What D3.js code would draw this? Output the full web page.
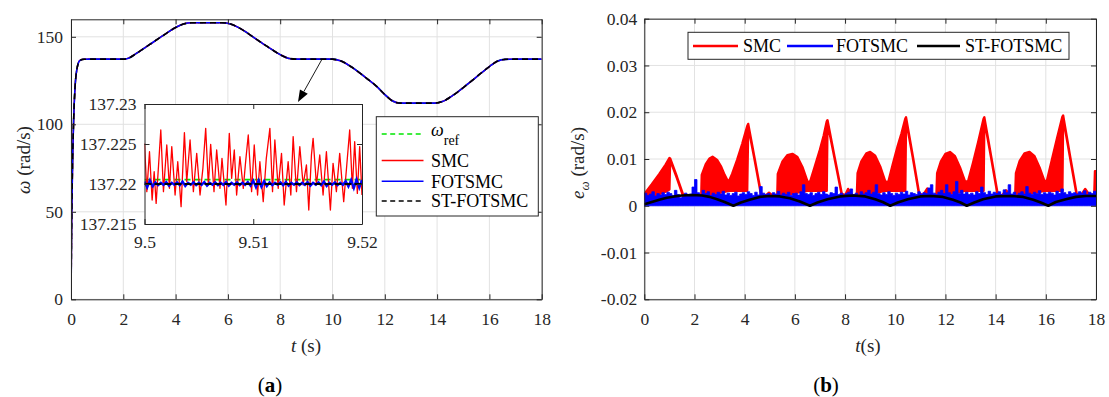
<!DOCTYPE html>
<html><head><meta charset="utf-8">
<script src="https://cdn.jsdelivr.net/npm/d3@7"></script>
<style>
body{margin:0;background:#fff;}
</style></head><body>
<svg id="c" width="1109" height="397"></svg>
<script>
// ---------- Panel (a): speed tracking ----------
const mainTime  = [0,0.03,0.07,0.1,0.15,0.22,0.34,0.5,0.7,2.0,2.2,2.5,3.0,3.5,4.0,4.3,4.6,5.8,6.1,6.5,7.0,7.5,8.0,8.3,8.6,10.0,10.3,10.7,11.2,11.7,12.0,12.3,12.6,13.9,14.2,14.6,15.0,15.5,16.0,16.3,16.6,17.0,18.0];
const mainOmega = [0,50,85,102,120,131,136.5,137.15,137.22,137.22,137.8,140.5,145.5,150.5,155.3,157.3,158.0,158.0,157.3,154.5,149.5,144.5,139.8,137.8,137.22,137.22,136.3,133,127.5,121.5,117,113.3,112.1,112.1,113,116.5,121,127,133,136,137.1,137.22,137.22];
const xTicksA = [0,2,4,6,8,10,12,14,16,18];
const yTicksA = [0,50,100,150];

// inset (zoom 9.5 - 9.52 s)
const insetRefTime = [9.5, 9.52];
const insetRef     = [137.22055, 137.22055];
const insetSTTime  = [9.5, 9.52];
const insetST      = [137.2200, 137.2200];
const insetSMCTime = [9.5,9.500214,9.500459,9.500703,9.50089,9.50107,9.501498,9.501743,9.502049,9.502294,9.502508,9.502813,9.503058,9.503364,9.50367,9.503884,9.50419,9.504495,9.504801,9.505107,9.50537,9.505627,9.505871,9.506085,9.506391,9.506636,9.506942,9.507125,9.507492,9.507798,9.508012,9.508257,9.508471,9.508776,9.509082,9.5093,9.509541,9.509847,9.510091,9.510397,9.510611,9.510917,9.5112,9.511529,9.511773,9.511987,9.512293,9.512599,9.512844,9.513211,9.513455,9.513669,9.513975,9.514281,9.514587,9.514892,9.515106,9.515351,9.515504,9.51581,9.516116,9.516421,9.516727,9.517094,9.517339,9.517645,9.51795,9.518317,9.5186,9.518868,9.519113,9.519327,9.519572,9.519786,9.52];
const insetSMC     = [137.22508,137.21904,137.22404,137.21800,137.22154,137.21758,137.22675,137.21904,137.22488,137.21946,137.22467,137.21862,137.22279,137.21717,137.22642,137.22029,137.22550,137.21904,137.22383,137.21862,137.22196,137.22696,137.21988,137.22496,137.21904,137.22425,137.21946,137.22321,137.21737,137.22633,137.22071,137.22425,137.21862,137.22342,137.21946,137.22279,137.22613,137.21904,137.22488,137.21862,137.22279,137.21779,137.22321,137.22696,137.21904,137.22550,137.21946,137.22383,137.21737,137.22279,137.21862,137.22592,137.21904,137.22467,137.21988,137.22238,137.21675,137.22363,137.22571,137.21988,137.22363,137.21862,137.22404,137.21675,137.22258,137.21904,137.22383,137.21779,137.22238,137.22675,137.21946,137.22529,137.21883,137.22467,137.21862];
const insetFOTStep = 0.00025;
const insetFOTSMC  = [137.22030,137.21960,137.22045,137.21970,137.22020,137.21985,137.22015,137.21990,137.22025,137.21980,
137.22015,137.21990,137.22020,137.21985,137.22030,137.21975,137.22015,137.21990,137.22020,137.21985,
137.22015,137.21990,137.22025,137.21980,137.22015,137.21990,137.22020,137.21985,137.22015,137.21990,
137.22025,137.21980,137.22015,137.21990,137.22020,137.21985,137.22015,137.21990,137.22025,137.21980,
137.22040,137.21960,137.22045,137.21965,137.22035,137.21975,137.22020,137.21985,137.22015,137.21990,
137.22020,137.21985,137.22025,137.21980,137.22015,137.21990,137.22020,137.21985,137.22015,137.21990,
137.22025,137.21980,137.22015,137.21990,137.22020,137.21985,137.22030,137.21975,137.22015,137.21990,
137.22020,137.21985,137.22015,137.21990,137.22035,137.21970,137.22050,137.21950,137.22055,137.21955,
137.22050];
const xTicksInset = [9.5, 9.51, 9.52];
const yTicksInset = [137.215, 137.22, 137.225, 137.23];
const arrowFrom = [9.6, 137.22];
const arrowTo   = [8.68, 112.7];

// ---------- Panel (b): speed error ----------
const smcTime = [0,0.3,0.6,0.85,1.0,1.03,1.3,1.55,1.8,2.1,2.27,2.29,2.45,2.6,2.72,2.9,3.05,3.2,3.35,3.5,3.7,3.9,4.1,4.14,4.4,4.65,4.8,4.97,5.15,5.3,5.32,5.5,5.7,5.9,6.1,6.3,6.5,6.6,6.8,7.0,7.15,7.27,7.3,7.58,7.87,8.0,8.12,8.3,8.47,8.5,8.65,8.85,9.0,9.2,9.4,9.6,9.72,9.9,10.1,10.25,10.4,10.43,10.7,10.95,11.1,11.28,11.45,11.64,11.67,11.82,12.0,12.18,12.38,12.58,12.78,12.9,13.1,13.3,13.52,13.55,13.82,14.08,14.25,14.42,14.6,14.78,14.81,14.96,15.15,15.35,15.55,15.75,15.95,16.05,16.25,16.45,16.66,16.69,16.96,17.23,17.4,17.57,17.75,17.93,17.96,18.0];
const smcHigh = [.0025,.0046,.0068,.0088,.0102,.0101,.0062,.0023,.0016,.0016,.0022,.0066,.0089,.0101,.0105,.0098,.0085,.0066,.0050,.0068,.0098,.0132,.0170,.0175,.0100,.0027,.0020,.0028,.0020,.0022,.0068,.0094,.0108,.0111,.0104,.0083,.0052,.0050,.0085,.0120,.0150,.0180,.0183,.0105,.0026,.0022,.0036,.0022,.0022,.0070,.0095,.0112,.0115,.0107,.0084,.0052,.0050,.0088,.0128,.0155,.0186,.0189,.0106,.0027,.0022,.0037,.0022,.0022,.0070,.0095,.0111,.0115,.0106,.0082,.0052,.0052,.0092,.0135,.0186,.0189,.0106,.0026,.0022,.0033,.0022,.0022,.0070,.0096,.0112,.0115,.0106,.0082,.0052,.0055,.0100,.0145,.0190,.0193,.0108,.0026,.0022,.0036,.0022,.0022,.0074,.0074];
const smcLow  = [.0015,.0020,.0025,.0030,.0035,.0098,.0059,.0020,.0014,.0014,.0018,.0020,.0020,.0022,.0024,.0026,.0028,.0030,.0032,.0032,.0032,.0032,.0032,.0170,.0097,.0024,.0016,.0016,.0016,.0018,.0020,.0022,.0024,.0026,.0028,.0030,.0032,.0032,.0032,.0032,.0032,.0032,.0178,.0102,.0023,.0016,.0016,.0016,.0018,.0020,.0022,.0024,.0026,.0028,.0030,.0032,.0032,.0032,.0032,.0032,.0032,.0184,.0103,.0024,.0016,.0016,.0016,.0018,.0020,.0022,.0024,.0026,.0028,.0030,.0032,.0032,.0032,.0032,.0032,.0184,.0103,.0023,.0016,.0016,.0016,.0018,.0020,.0022,.0024,.0026,.0028,.0030,.0032,.0032,.0032,.0032,.0032,.0188,.0105,.0023,.0016,.0016,.0016,.0018,.0020,.0020];
const fotsmcStep = 0.1;
const fotsmcErr = [
.0027,.0022,.0025,.0030,.0021,.0026,.0023,.0028,.0024,.0029,
.0026,.0022,.0033,.0024,.0017,.0019,.0027,.0022,.0025,.0040,
.0056,.0028,.0024,.0033,.0026,.0030,.0022,.0027,.0024,.0029,
.0025,.0031,.0023,.0027,.0022,.0026,.0029,.0021,.0025,.0028,
.0024,.0030,.0026,.0022,.0029,.0023,.0041,.0027,.0024,.0026,
.0022,.0028,.0025,.0031,.0023,.0027,.0024,.0029,.0022,.0026,
.0027,.0023,.0030,.0045,.0026,.0024,.0028,.0022,.0026,.0029,
.0024,.0030,.0025,.0023,.0028,.0026,.0040,.0024,.0027,.0023,
.0026,.0029,.0036,.0024,.0027,.0022,.0030,.0025,.0028,.0033,
.0025,.0029,.0045,.0026,.0023,.0028,.0024,.0030,.0026,.0022,
.0027,.0024,.0029,.0025,.0031,.0023,.0028,.0026,.0024,.0030,
.0025,.0028,.0026,.0038,.0045,.0027,.0024,.0029,.0033,.0026,
.0045,.0028,.0024,.0030,.0052,.0027,.0033,.0025,.0029,.0024,
.0027,.0023,.0030,.0026,.0040,.0028,.0024,.0031,.0025,.0029,
.0026,.0030,.0024,.0034,.0028,.0045,.0025,.0029,.0023,.0027,
.0030,.0025,.0041,.0027,.0024,.0029,.0026,.0032,.0024,.0028,
.0025,.0029,.0027,.0023,.0031,.0026,.0036,.0028,.0024,.0030,
.0026,.0028,.0025,.0030,.0027,.0032,.0024,.0029,.0026,.0031,
.0028];
const stTime = [0,0.3,0.6,0.9,1.2,1.5,1.9,2.3,2.6,2.9,3.2,3.55,3.85,4.2,4.6,5.0,5.4,5.8,6.2,6.6,6.9,7.3,7.8,8.3,8.8,9.2,9.5,9.8,10.1,10.5,11.0,11.4,11.9,12.3,12.6,12.85,13.15,13.5,14.0,14.6,15.1,15.5,15.8,16.1,16.4,16.8,17.2,17.6,18.0];
const stErr  = [.0003,.0008,.0013,.0017,.0020,.0022,.0023,.0022,.0019,.0014,.0008,0,.0007,.0013,.0019,.0021,.0020,.0016,.0009,0,.0007,.0014,.0020,.0022,.0020,.0014,.0008,0,.0007,.0014,.0020,.0021,.0019,.0013,.0007,0,.0007,.0014,.0020,.0021,.0019,.0013,.0007,0,.0008,.0014,.0019,.0021,.0021];
const xTicksB = [0,2,4,6,8,10,12,14,16,18];
const yTicksB = [-0.02,-0.01,0,0.01,0.02,0.03,0.04];

const seriesColors = {ref:"#00e600", smc:"#ff0000", fot:"#0000ff", st:"#000000"};
const legendA = ["ref","SMC","FOTSMC","ST-FOTSMC"];
const legendB = ["SMC","FOTSMC","ST-FOTSMC"];

// ---------- drawing ----------
const FONT = "'Liberation Serif', 'Times New Roman', Times, serif";
const svg = d3.select("#c").style("font-family", FONT);
const AX = "#262626", GRID = "#e2e2e2", TF = 17.5;

function grid(g, x, y, xt, yt) {
  const [x0,x1] = x.range(), [y0,y1] = y.range();
  g.append("g").selectAll("line").data(xt).join("line")
    .attr("x1",d=>x(d)).attr("x2",d=>x(d)).attr("y1",y0).attr("y2",y1).attr("stroke",GRID);
  g.append("g").selectAll("line").data(yt).join("line")
    .attr("y1",d=>y(d)).attr("y2",d=>y(d)).attr("x1",x0).attr("x2",x1).attr("stroke",GRID);
}
function axes(g, x, y, xt, yt, xPad, yPad) {
  const [x0,x1] = x.range(), [y0,y1] = y.range();
  const fmt = d=>String(d);
  const style = s => { s.attr("font-family",null).attr("font-size",TF);
    s.selectAll(".domain").attr("stroke",AX); s.selectAll(".tick line").attr("stroke",AX);
    s.selectAll("text").attr("fill",AX).style("font-family",FONT); };
  g.append("g").attr("transform",`translate(0,${y0})`)
    .call(d3.axisBottom(x).tickValues(xt).tickSize(-5).tickSizeOuter(0).tickPadding(xPad).tickFormat(fmt)).call(style);
  g.append("g").attr("transform",`translate(0,${y1})`)
    .call(d3.axisTop(x).tickValues(xt).tickSize(-5).tickSizeOuter(0).tickFormat("")).call(style);
  g.append("g").attr("transform",`translate(${x0},0)`)
    .call(d3.axisLeft(y).tickValues(yt).tickSize(-5).tickSizeOuter(0).tickPadding(yPad).tickFormat(fmt)).call(style);
  g.append("g").attr("transform",`translate(${x1},0)`)
    .call(d3.axisRight(y).tickValues(yt).tickSize(-5).tickSizeOuter(0).tickFormat("")).call(style);
}
function txt(parent){ return parent.append("text").style("font-family",FONT); }

// ===== Panel A =====
const xA = d3.scaleLinear().domain([0,18]).range([71,541.7]);
const yA = d3.scaleLinear().domain([0,160]).range([299.3,19.3]);
const gA = svg.append("g");
gA.append("clipPath").attr("id","clipA").append("rect")
  .attr("x",71).attr("y",19.3).attr("width",xA(18)-xA(0)).attr("height",yA(0)-yA(160));
grid(gA,xA,yA,xTicksA,yTicksA);
const mainPts = mainTime.map((t,i)=>[t,mainOmega[i]]);
const lineA = d3.line().x(d=>xA(d[0])).y(d=>yA(d[1])).curve(d3.curveMonotoneX);
const dA = gA.append("g").attr("clip-path","url(#clipA)");
dA.append("path").attr("d",lineA(mainPts)).attr("fill","none").attr("stroke",seriesColors.ref).attr("stroke-width",1.5).attr("stroke-dasharray","5,3");
dA.append("path").attr("d",lineA(mainPts)).attr("fill","none").attr("stroke",seriesColors.smc).attr("stroke-width",1.5);
dA.append("path").attr("d",lineA(mainPts)).attr("fill","none").attr("stroke",seriesColors.fot).attr("stroke-width",1.6);
dA.append("path").attr("d",lineA(mainPts)).attr("fill","none").attr("stroke",seriesColors.st).attr("stroke-width",1.6).attr("stroke-dasharray","6,4");
axes(gA,xA,yA,xTicksA,yTicksA,13,8);

// arrow
const ax1 = xA(arrowFrom[0]), ay1 = yA(arrowFrom[1]), ax2 = xA(arrowTo[0]), ay2 = yA(arrowTo[1]);
const ang = Math.atan2(ay2-ay1, ax2-ax1), L = 12, Wd = 4.5;
const bx = ax2 - L*Math.cos(ang), by = ay2 - L*Math.sin(ang);
gA.append("line").attr("x1",ax1).attr("y1",ay1).attr("x2",bx).attr("y2",by).attr("stroke","#000").attr("stroke-width",0.9);
gA.append("path").attr("d",`M${ax2},${ay2}L${bx+Wd*Math.sin(ang)},${by-Wd*Math.cos(ang)}L${bx-Wd*Math.sin(ang)},${by+Wd*Math.cos(ang)}Z`).attr("fill","#000");

// inset
const xI = d3.scaleLinear().domain([9.5,9.52]).range([144.5,362]);
const yI = d3.scaleLinear().domain([137.215,137.23]).range([224,104]);
const gI = svg.append("g");
gI.append("rect").attr("x",144.5).attr("y",104).attr("width",xI(9.52)-xI(9.5)).attr("height",yI(137.215)-yI(137.23)).attr("fill","#fff");
gI.append("clipPath").attr("id","clipI").append("rect").attr("x",144.5).attr("y",104).attr("width",xI(9.52)-xI(9.5)).attr("height",yI(137.215)-yI(137.23));
const lineI = d3.line().x(d=>xI(d[0])).y(d=>yI(d[1]));
const dI = gI.append("g").attr("clip-path","url(#clipI)");
dI.append("path").attr("d",lineI(insetRefTime.map((t,i)=>[t,insetRef[i]]))).attr("fill","none").attr("stroke",seriesColors.ref).attr("stroke-width",1.6).attr("stroke-dasharray","6,4");
dI.append("path").attr("d",lineI(insetSMCTime.map((t,i)=>[t,insetSMC[i]]))).attr("fill","none").attr("stroke",seriesColors.smc).attr("stroke-width",1.3).attr("stroke-linejoin","round");
dI.append("path").attr("d",lineI(insetFOTSMC.map((v,i)=>[9.5+i*insetFOTStep,v]))).attr("fill","none").attr("stroke",seriesColors.fot).attr("stroke-width",2.4);
dI.append("path").attr("d",lineI(insetSTTime.map((t,i)=>[t,insetST[i]]))).attr("fill","none").attr("stroke",seriesColors.st).attr("stroke-width",1.8).attr("stroke-dasharray","7,3");
axes(gI,xI,yI,xTicksInset,yTicksInset,11.5,8);

// legend A
const lgA = svg.append("g");
lgA.append("rect").attr("x",376.3).attr("y",116.7).attr("width",162).attr("height",99.3).attr("fill","#fff").attr("stroke",AX).attr("stroke-width",1);
const lgAy = [134,160.5,181.3,201];
const lgAstyle = [[seriesColors.ref,"5,3.5"],[seriesColors.smc,null],[seriesColors.fot,null],[seriesColors.st,"5,3.5"]];
legendA.forEach((name,i)=>{
  lgA.append("line").attr("x1",381.7).attr("x2",423.5).attr("y1",lgAy[i]).attr("y2",lgAy[i])
    .attr("stroke",lgAstyle[i][0]).attr("stroke-width",1.5).attr("stroke-dasharray",lgAstyle[i][1]);
  if (name==="ref") {
    const t = txt(lgA).attr("x",431).attr("y",lgAy[i]+2).attr("font-size",18).attr("fill","#000");
    t.append("tspan").attr("font-style","italic").text("ω");
    t.append("tspan").attr("font-size",14).attr("dy",9).text("ref");
  } else {
    txt(lgA).attr("x",431).attr("y",lgAy[i]).attr("dy","0.35em").attr("font-size",18).attr("fill","#000").text(name);
  }
});

// axis labels A
const ylA = txt(svg).attr("transform","translate(23,160) rotate(-90)").attr("text-anchor","middle").attr("dy","0.35em").attr("font-size",19).attr("fill",AX);
ylA.append("tspan").attr("font-style","italic").text("ω");
ylA.append("tspan").text(" (rad/s)");
const xlA = txt(svg).attr("x",306).attr("y",345).attr("text-anchor","middle").attr("dy","0.35em").attr("font-size",19).attr("fill",AX);
xlA.append("tspan").attr("font-style","italic").text("t");
xlA.append("tspan").text(" (s)");
const capA = txt(svg).attr("x",270).attr("y",385).attr("text-anchor","middle").attr("dy","0.35em").attr("font-size",21).attr("fill","#000");
capA.append("tspan").text("(");
capA.append("tspan").attr("font-weight","bold").text("a");
capA.append("tspan").text(")");

// ===== Panel B =====
const xB = d3.scaleLinear().domain([0,18]).range([644.3,1096]);
const yB = d3.scaleLinear().domain([-0.02,0.04]).range([299.3,18.7]);
const gB = svg.append("g");
gB.append("clipPath").attr("id","clipB").append("rect")
  .attr("x",644.3).attr("y",18.7).attr("width",xB(18)-xB(0)).attr("height",yB(-0.02)-yB(0.04));
grid(gB,xB,yB,xTicksB,yTicksB);
const dB = gB.append("g").attr("clip-path","url(#clipB)");
const smcArea = d3.area().x((d,i)=>xB(smcTime[i])).y0((d,i)=>yB(smcLow[i])).y1((d,i)=>yB(smcHigh[i]));
dB.append("path").attr("d",smcArea(smcTime)).attr("fill",seriesColors.smc).attr("stroke",seriesColors.smc).attr("stroke-width",2.4).attr("stroke-linejoin","round");
const fotArea = d3.area().x((d,i)=>xB(i*fotsmcStep)).y0(yB(0)).y1(d=>yB(d)).curve(d3.curveStepAfter);
dB.append("path").attr("d",fotArea(fotsmcErr)).attr("fill",seriesColors.fot).attr("stroke",seriesColors.fot).attr("stroke-width",0.8);
const stLine = d3.line().x((d,i)=>xB(stTime[i])).y(d=>yB(d));
dB.append("path").attr("d",stLine(stErr)).attr("fill","none").attr("stroke",seriesColors.st).attr("stroke-width",2.6).attr("stroke-linejoin","round");
axes(gB,xB,yB,xTicksB,yTicksB,13,7);

// legend B
const lgB = svg.append("g");
lgB.append("rect").attr("x",688).attr("y",32.3).attr("width",381).attr("height",27).attr("fill","#fff").attr("stroke",AX).attr("stroke-width",1);
const lgBx = [[693,738,743],[787,833,836],[917,960,965]];
const lgBc = [seriesColors.smc, seriesColors.fot, seriesColors.st];
legendB.forEach((name,i)=>{
  lgB.append("line").attr("x1",lgBx[i][0]).attr("x2",lgBx[i][1]).attr("y1",46).attr("y2",46).attr("stroke",lgBc[i]).attr("stroke-width",2.6);
  txt(lgB).attr("x",lgBx[i][2]).attr("y",46).attr("dy","0.35em").attr("font-size",18).attr("fill","#000").text(name);
});

// axis labels B
const ylB = txt(svg).attr("transform","translate(577,163) rotate(-90)").attr("text-anchor","middle").attr("dy","0.35em").attr("font-size",19).attr("fill",AX);
ylB.append("tspan").attr("font-style","italic").text("e");
ylB.append("tspan").attr("font-style","italic").attr("font-size",13).attr("dy",5).text("ω");
ylB.append("tspan").attr("dy",-5).text(" (rad/s)");
const xlB = txt(svg).attr("x",868).attr("y",345).attr("text-anchor","middle").attr("dy","0.35em").attr("font-size",19).attr("fill",AX);
xlB.append("tspan").attr("font-style","italic").text("t");
xlB.append("tspan").text("(s)");
const capB = txt(svg).attr("x",826).attr("y",385).attr("text-anchor","middle").attr("dy","0.35em").attr("font-size",21).attr("fill","#000");
capB.append("tspan").text("(");
capB.append("tspan").attr("font-weight","bold").text("b");
capB.append("tspan").text(")");
</script>
</body></html>
